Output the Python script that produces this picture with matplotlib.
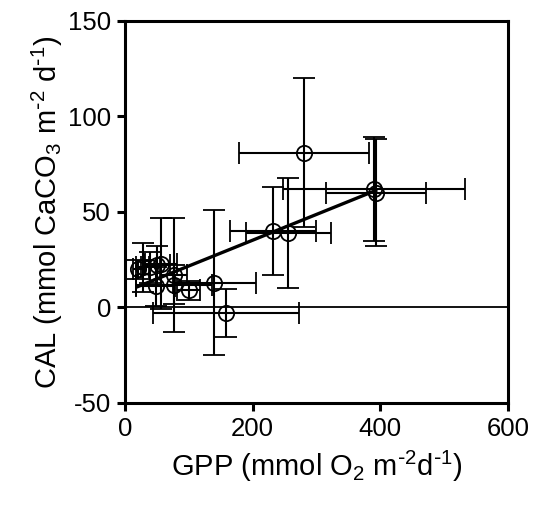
import numpy as np
import matplotlib
matplotlib.use("Agg")
import matplotlib.pyplot as plt

plt.rcParams['font.family'] = ['Liberation Sans', 'DejaVu Sans']
plt.rcParams['mathtext.default'] = 'regular'
plt.rcParams['axes.unicode_minus'] = False

# GPP (x) and CAL (y) means with errors
gpp = [20, 28, 40, 50, 57, 48, 77, 77, 100, 140, 158, 232, 256, 280, 390, 393]
gpp_err = [8, 10, 15, 20, 25, 30, 20, 60, 18, 65, 114, 67, 67, 102, 143, 78]
cal = [20, 21, 21, 22, 23, 11, 17, 12, 9, 13, -3, 40, 39, 81, 62, 60]
cal_err = [5, 13, 8, 10, 24, 10, 30, 10, 5, 38, 12.5, 23, 29, 39, 27, 28]

# linear fit shown on the figure
fit_slope = 0.135
fit_intercept = 8.2

xticks = [0, 200, 400, 600]
yticks = [-50, 0, 50, 100, 150]

fig = plt.figure(figsize=(5.34, 5.12), dpi=100)
ax = fig.add_axes([0.234, 0.213, 0.717, 0.746])

ax.axhline(0, color='black', lw=1.3, zorder=1)

ax.errorbar(gpp, cal, xerr=gpp_err, yerr=cal_err, fmt='o', ms=11,
            mfc='none', mec='black', mew=1.3, ecolor='black', elinewidth=1.5,
            capsize=8, capthick=1.5, zorder=3)

xfit = np.array([min(gpp), max(gpp)])
ax.plot(xfit, fit_intercept + fit_slope * xfit, color='black', lw=2.4, zorder=4)

ax.set_xlim(0, 600)
ax.set_ylim(-50, 150)
ax.set_xticks(xticks)
ax.set_yticks(yticks)

for s in ax.spines.values():
    s.set_linewidth(2.2)
ax.tick_params(width=2.2, length=6, labelsize=18.5, pad=4)

ax.set_xlabel(r'GPP (mmol O$_2$ m$^{\text{-}2}$d$^{\text{-}1}$)', fontsize=21, labelpad=6)
ax.set_ylabel(r'CAL (mmol CaCO$_3$ m$^{\text{-}2}$ d$^{\text{-}1}$)', fontsize=21, labelpad=2)

fig.savefig('out.png', dpi=100)
